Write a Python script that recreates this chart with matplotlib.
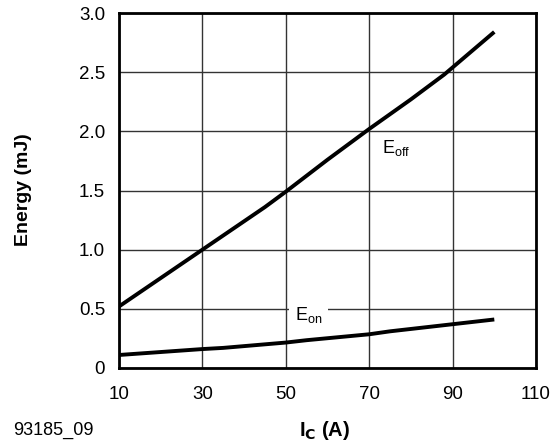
import matplotlib
matplotlib.use("Agg")
import matplotlib.pyplot as plt

plt.rcParams['font.family'] = ['Liberation Sans', 'DejaVu Sans']

# collector current (A) and switching energies (mJ)
ic_off = [10, 20, 30, 40, 45, 50, 60, 70, 80, 88, 100]
e_off = [0.52, 0.76, 1.0, 1.24, 1.36, 1.49, 1.76, 2.02, 2.27, 2.48, 2.84]

ic_on = [10, 20, 30, 35, 50, 55, 70, 75, 90, 100]
e_on = [0.11, 0.135, 0.16, 0.17, 0.215, 0.235, 0.285, 0.31, 0.37, 0.41]

x_ticks = [10, 30, 50, 70, 90, 110]
y_ticks = [0, 0.5, 1.0, 1.5, 2.0, 2.5, 3.0]
y_labels = ['0', '0.5', '1.0', '1.5', '2.0', '2.5', '3.0']

fig = plt.figure(figsize=(5.57, 4.47), dpi=100)
ax = fig.add_axes([119/557, 1-368/447, 417/557, 355/447])

ax.plot(ic_off, e_off, color='black', linewidth=2.8, solid_capstyle='butt', zorder=3)
ax.plot(ic_on, e_on, color='black', linewidth=2.8, solid_capstyle='butt', zorder=3)

ax.set_xlim(10, 110)
ax.set_ylim(0, 3.0)
ax.set_xticks(x_ticks)
ax.set_yticks(y_ticks)
ax.set_yticklabels(y_labels)
ax.tick_params(length=0, labelsize=13.5, pad=10)
ax.tick_params(axis='x', pad=13)
ax.grid(True, color='#333333', linewidth=1.0)
ax.set_axisbelow(True)
for s in ax.spines.values():
    s.set_linewidth(2.0)

ax.text(73, 1.86, r'E$_{\mathregular{off}}$', fontsize=13, ha='left', va='center')
ax.text(55.5, 0.45, r'E$_{\mathregular{on}}$', fontsize=13, ha='center', va='center',
        bbox=dict(facecolor='white', edgecolor='none', pad=4), zorder=4)

fig.text(23/557, 1 - 190/447, 'Energy (mJ)', fontsize=14, fontweight='bold',
         rotation=90, ha='center', va='center')
fig.text(0.5 * (119 + 536) / 557 - 0.005, 1 - 430/447, r'I$_\mathbf{C}$ (A)', fontsize=14.5,
         fontweight='bold', ha='center', va='center')
fig.text(13/557, 1 - 430/447, '93185_09', fontsize=13, ha='left', va='center')

fig.savefig('out.png', dpi=100)
